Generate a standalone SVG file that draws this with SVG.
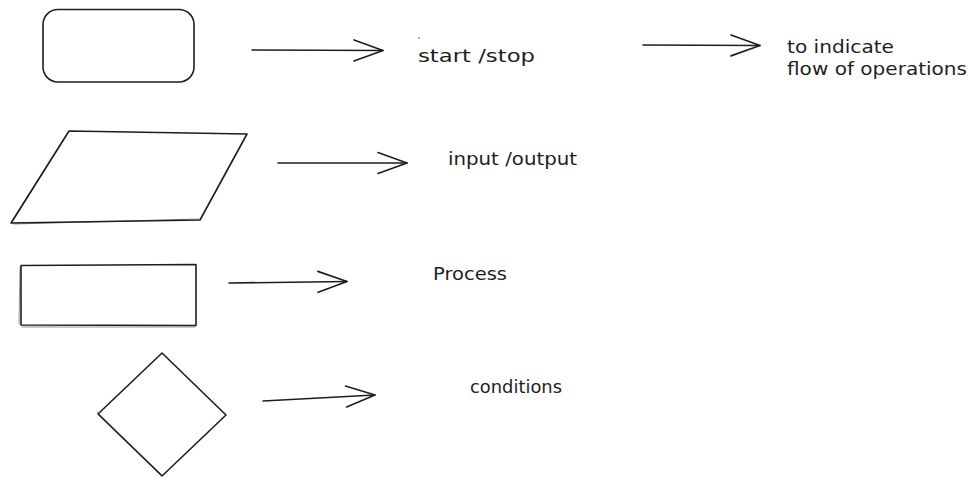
<svg xmlns="http://www.w3.org/2000/svg" width="979" height="487" viewBox="0 0 979 487">
<style>
.shape{fill:none;stroke:#1e1e1e;stroke-width:1.6;stroke-linejoin:round;stroke-linecap:round}
.shape2{fill:none;stroke:#1e1e1e;stroke-width:0.8;stroke-opacity:0.6;stroke-linecap:round}
.conn{fill:none;stroke:#1e1e1e;stroke-width:1.6;stroke-linecap:round}
.lbl{font-family:"DejaVu Sans","Liberation Sans",sans-serif;font-size:18px;fill:#1e1e1e}
</style>
<defs>
<marker id="head" markerUnits="userSpaceOnUse" viewBox="0 0 31 23" markerWidth="31" markerHeight="23" refX="30" refY="11.5" orient="auto" overflow="visible">
<path d="M1,1 L30,11.5 L1,22" fill="none" stroke="#1e1e1e" stroke-width="1.6" stroke-linecap="round" stroke-linejoin="round"/>
</marker>
</defs>
<rect width="979" height="487" fill="#ffffff"/>
<g id="node-terminal">
<rect class="shape" x="43" y="9.5" width="151" height="72.5" rx="15" ry="15"/>
</g>
<g id="node-io">
<path class="shape" d="M69,131 L247,134 L200,220 L11,223 Z"/>
<path class="shape2" d="M68,133 L13,221 M14,224 L199,219"/>
</g>
<g id="node-process">
<path class="shape" d="M21,265.5 L196,264.5 L196,325.5 L21,325 Z"/>
<path class="shape2" d="M20,267 L19,324 M22,327 L195,327"/>
</g>
<g id="node-decision">
<path class="shape" d="M162,353 L226,415 L162,476 L98,414 Z"/>
<path class="shape2" d="M97,412 L161,474"/>
</g>
<g id="connectors">
<path class="conn" d="M252,50 L383,50.5" marker-end="url(#head)"/>
<path class="conn" d="M643,45 L760,45.5" marker-end="url(#head)"/>
<path class="conn" d="M278,163 L407,163" marker-end="url(#head)"/>
<path class="conn" d="M229,283 L347,281.5" marker-end="url(#head)"/>
<path class="conn" d="M263,401 L375,395" marker-end="url(#head)"/>
</g>
<g id="labels">
<circle cx="419" cy="38" r="0.8" fill="#1971c2"/>
<text class="lbl" x="418" y="62" textLength="117" lengthAdjust="spacingAndGlyphs">start /stop</text>
<text class="lbl" x="787" y="53" textLength="107" lengthAdjust="spacingAndGlyphs">to indicate</text>
<text class="lbl" x="787" y="75" textLength="180" lengthAdjust="spacingAndGlyphs">flow of operations</text>
<text class="lbl" x="448" y="165" textLength="129" lengthAdjust="spacingAndGlyphs">input /output</text>
<text class="lbl" x="433" y="280" textLength="74" lengthAdjust="spacingAndGlyphs">Process</text>
<text class="lbl" x="470" y="393" textLength="92" lengthAdjust="spacingAndGlyphs">conditions</text>
</g>
</svg>
